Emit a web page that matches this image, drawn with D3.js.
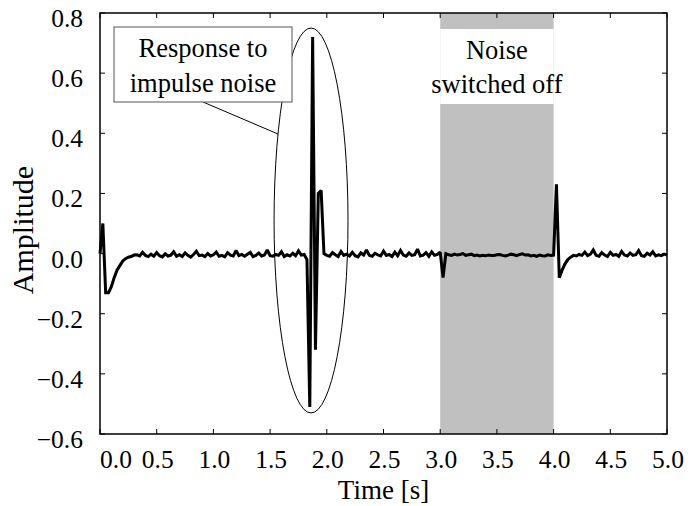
<!DOCTYPE html>
<html>
<head>
<meta charset="utf-8">
<script src="https://cdn.jsdelivr.net/npm/d3@7"></script>
<style>
  html, body { margin:0; padding:0; background:#fff; }
  svg { display:block; font-family:"Liberation Serif","Times New Roman",serif; }
</style>
</head>
<body>
<svg id="chart" width="693" height="506"></svg>
<script>
const dt = 0.025;
const startResponse = [0.0, 0.1, -0.13, -0.13, -0.11, -0.08, -0.055, -0.04, -0.025, -0.017, -0.012, -0.01, -0.005];
const noiseA = [
  -0.004, -0.008, 0.004, -0.006, -0.010, -0.002, -0.009, 0.003, -0.007, -0.011,
  -0.001, -0.008, -0.005, 0.006, -0.009, -0.004, -0.010, 0.002, -0.006, -0.012,
  -0.003, 0.008, -0.007, -0.005, -0.010, 0.000, -0.008, -0.004, 0.005, -0.009,
  -0.006, -0.011, 0.003, -0.005, -0.008, 0.010, -0.007, -0.003, -0.009, -0.002,
  0.004, -0.010, -0.006, 0.002, -0.008, -0.005, 0.012, -0.007, -0.009, -0.003,
  -0.006, 0.006, -0.010, -0.004, -0.008, 0.001, -0.007, 0.009, -0.005, -0.003
];
const impulse = [-0.02, -0.51, 0.72, -0.32, 0.2, 0.21, 0.0];
const noiseB = [
  -0.006, -0.009, 0.003, -0.004, -0.010, 0.007, -0.006, -0.002, -0.008, 0.004,
  -0.007, -0.011, 0.002, -0.005, 0.012, -0.006, -0.009, 0.001, -0.004, -0.008,
  0.008, -0.006, -0.003, -0.010, 0.005, -0.007, 0.010, -0.005, -0.009, 0.002,
  -0.006, -0.004, 0.015, -0.008, -0.005, 0.003, -0.009, 0.006, -0.006, -0.003
];
const switchOff = [0.005, -0.08, 0.0];
const quiet = [
  -0.004, -0.006, -0.002, -0.005, -0.003, 0.000, -0.006, -0.004, -0.002, -0.007,
  -0.005, -0.008, -0.006, -0.007, -0.005, -0.006, -0.006, -0.004, -0.003, -0.006,
  -0.008, -0.005, -0.002, -0.004, -0.007, -0.003, -0.001, -0.005, -0.004, -0.008,
  -0.006, -0.009, -0.005, -0.007, -0.008, -0.004, -0.006
];
const switchOn = [-0.005, 0.23, -0.08, -0.055, -0.035, -0.02, -0.012, -0.006];
const noiseC = [
  -0.008, -0.003, -0.006, 0.005, -0.007, -0.002, 0.012, -0.006, -0.009, 0.003,
  -0.005, -0.010, 0.004, -0.006, -0.003, -0.009, 0.007, -0.005, -0.008, 0.002,
  -0.006, -0.004, 0.010, -0.007, -0.009, 0.001, -0.005, 0.006, -0.008, -0.004,
  -0.007, -0.002, -0.005
];

const xTicks = [0, 0.5, 1, 1.5, 2, 2.5, 3, 3.5, 4, 4.5, 5];
const yTicks = [-0.6, -0.4, -0.2, 0, 0.2, 0.4, 0.6, 0.8];
const offBand = [3.0, 4.0];
const offLabel = ['Noise', 'switched off'];
const calloutLabel = ['Response to', 'impulse noise'];
// ellipse round the impulse response: centre (s, amp) and half axes
const ring = { t: 1.861, a: 0.11, rt: 0.326, ra: 0.64 };

const amplitude = [].concat(startResponse, noiseA, impulse, noiseB, switchOff, quiet, switchOn, noiseC);
const series = amplitude.map((v, i) => ({ t: i * dt, v }));

// --- layout ---
const svg = d3.select('#chart');
const L = 100, R = 667, T = 13, B = 434;
const x = d3.scaleLinear().domain([0, 5]).range([L, R]);
const y = d3.scaleLinear().domain([-0.6, 0.8]).range([B, T]);
const fmt = d3.format('.1f');

// grey band (noise off), with white gap for its label
svg.append('rect')
  .attr('x', x(offBand[0])).attr('y', T)
  .attr('width', x(offBand[1]) - x(offBand[0])).attr('height', B - T)
  .attr('fill', '#c0c0c0');
svg.append('rect')
  .attr('x', x(offBand[0])).attr('y', 29)
  .attr('width', x(offBand[1]) - x(offBand[0])).attr('height', 75)
  .attr('fill', '#fff');

// ticks (inward on all four sides)
const tickLen = 5;
const tk = svg.append('g').attr('stroke', '#000').attr('stroke-width', 1);
xTicks.forEach(t => {
  tk.append('line').attr('x1', x(t)).attr('x2', x(t)).attr('y1', B).attr('y2', B - tickLen);
  tk.append('line').attr('x1', x(t)).attr('x2', x(t)).attr('y1', T).attr('y2', T + tickLen);
});
yTicks.forEach(v => {
  tk.append('line').attr('x1', L).attr('x2', L + tickLen).attr('y1', y(v)).attr('y2', y(v));
  tk.append('line').attr('x1', R).attr('x2', R - tickLen).attr('y1', y(v)).attr('y2', y(v));
});

// tick labels
svg.append('g').selectAll('text').data(xTicks).join('text')
  .attr('x', (d, i) => x(d) + (i === 0 ? 16 : 1))
  .attr('y', 468)
  .attr('text-anchor', 'middle')
  .attr('font-size', 25.5)
  .text(d => fmt(d));
svg.append('g').selectAll('text').data(yTicks).join('text')
  .attr('x', 83)
  .attr('y', d => y(d) + 14)
  .attr('text-anchor', 'end')
  .attr('font-size', 25.5)
  .text(d => fmt(d));

// axis titles
svg.append('text')
  .attr('x', (L + R) / 2).attr('y', 499)
  .attr('text-anchor', 'middle').attr('font-size', 27)
  .text('Time [s]');
svg.append('text')
  .attr('transform', `translate(33,230) rotate(-90)`)
  .attr('text-anchor', 'middle').attr('font-size', 30)
  .text('Amplitude');

// signal
const line = d3.line().x(d => x(d.t)).y(d => y(d.v));
svg.append('path')
  .datum(series)
  .attr('d', line)
  .attr('fill', 'none')
  .attr('stroke', '#000')
  .attr('stroke-width', 3)
  .attr('stroke-linejoin', 'miter')
  .attr('stroke-miterlimit', 2);

// ellipse round the impulse response
const cx = x(ring.t), cy = y(ring.a);
const rx = x(ring.t + ring.rt) - cx, ry = cy - y(ring.a + ring.ra);
svg.append('ellipse')
  .attr('cx', cx).attr('cy', cy).attr('rx', rx).attr('ry', ry)
  .attr('fill', 'none').attr('stroke', '#000').attr('stroke-width', 1);

// callout box + leader line
const box = { x: 114, y: 27, w: 178, h: 75 };
const ang = Math.asin((cy - 134) / ry);
svg.append('line')
  .attr('x1', box.x + box.w / 2).attr('y1', box.y + box.h)
  .attr('x2', cx - rx * Math.cos(ang)).attr('y2', cy - ry * Math.sin(ang))
  .attr('stroke', '#000').attr('stroke-width', 1);
svg.append('rect')
  .attr('x', box.x).attr('y', box.y).attr('width', box.w).attr('height', box.h)
  .attr('fill', '#fff').attr('stroke', '#555').attr('stroke-width', 1);
svg.append('g').selectAll('text').data(calloutLabel).join('text')
  .attr('x', box.x + box.w / 2)
  .attr('y', (d, i) => 57 + i * 35)
  .attr('text-anchor', 'middle').attr('font-size', 26.5)
  .text(d => d);

// band label
svg.append('g').selectAll('text').data(offLabel).join('text')
  .attr('x', (x(offBand[0]) + x(offBand[1])) / 2)
  .attr('y', (d, i) => 59 + i * 34)
  .attr('text-anchor', 'middle').attr('font-size', 26.5)
  .text(d => d);

// frame
svg.append('rect')
  .attr('x', L).attr('y', T).attr('width', R - L).attr('height', B - T)
  .attr('fill', 'none').attr('stroke', '#000').attr('stroke-width', 1.5);
</script>
</body>
</html>
